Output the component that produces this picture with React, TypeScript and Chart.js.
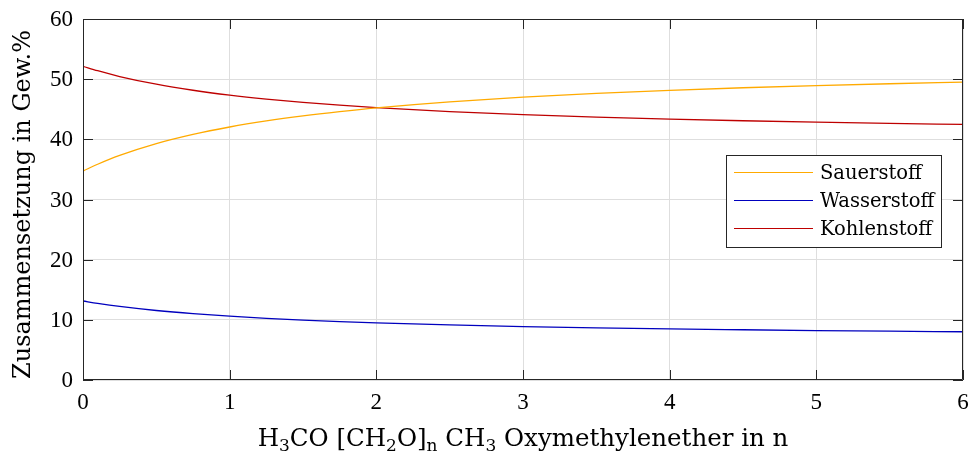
import React, { useEffect, useRef } from "react";
import { Chart, registerables } from "chart.js";

Chart.register(...registerables);

const nValues = [0, 0.1, 0.25, 0.5, 0.75, 1, 1.25, 1.5, 1.75, 2, 2.5, 3, 3.5, 4, 4.5, 5, 5.5, 6];
const sauerstoff = [34.73, 35.86, 37.33, 39.29, 40.82, 42.05, 43.06, 43.90, 44.61, 45.23, 46.23, 47.01, 47.63, 48.14, 48.57, 48.93, 49.24, 49.51];
const wasserstoff = [13.13, 12.74, 12.23, 11.55, 11.02, 10.60, 10.25, 9.96, 9.71, 9.50, 9.15, 8.88, 8.67, 8.49, 8.35, 8.22, 8.11, 8.02];
const kohlenstoff = [52.14, 51.40, 50.44, 49.16, 48.16, 47.35, 46.69, 46.14, 45.67, 45.27, 44.62, 44.11, 43.70, 43.37, 43.09, 42.85, 42.65, 42.47];
const seriesNames = ["Sauerstoff", "Wasserstoff", "Kohlenstoff"];
const seriesColors = ["rgb(255,170,0)", "rgb(0,0,190)", "rgb(190,0,0)"];
const xTicks = [0, 1, 2, 3, 4, 5, 6];
const yTicks = [0, 10, 20, 30, 40, 50, 60];
const yTitle = "Zusammensetzung in Gew.%";

const NUMFONT = "'Liberation Serif', serif";
const TXTFONT = "'DejaVu Serif', serif";
const AXIS = "#262626";

const framePlugin = {
  id: "frame",
  afterDraw(chart: any) {
    const { ctx, chartArea: a, scales } = chart;
    const xs = scales.x, ys = scales.y;
    ctx.save();
    ctx.strokeStyle = AXIS;
    ctx.lineWidth = 1;
    ctx.beginPath();
    ctx.rect(a.left + 0.5, a.top + 0.5, a.right - a.left - 1, a.bottom - a.top - 1);
    ctx.stroke();
    const tl = 10;
    ctx.beginPath();
    for (const v of yTicks) {
      const y = Math.round(ys.getPixelForValue(v)) + 0.5;
      ctx.moveTo(a.left, y); ctx.lineTo(a.left + tl, y);
      ctx.moveTo(a.right, y); ctx.lineTo(a.right - tl, y);
    }
    for (const v of xTicks) {
      const x = Math.round(xs.getPixelForValue(v)) + 0.5;
      ctx.moveTo(x, a.bottom); ctx.lineTo(x, a.bottom - tl);
      ctx.moveTo(x, a.top); ctx.lineTo(x, a.top + tl);
    }
    ctx.stroke();

    // tick labels
    ctx.fillStyle = "#000";
    ctx.font = `23px ${NUMFONT}`;
    ctx.textAlign = "right";
    ctx.textBaseline = "middle";
    for (const v of yTicks) {
      ctx.fillText(String(v), a.left - 10, ys.getPixelForValue(v) + 1);
    }
    ctx.textAlign = "center";
    ctx.textBaseline = "top";
    for (const v of xTicks) {
      ctx.fillText(String(v), xs.getPixelForValue(v), a.bottom + 11);
    }

    // legend
    const lx = 726, ly = 155, lw = 215, lh = 92;
    ctx.fillStyle = "#fff";
    ctx.fillRect(lx, ly, lw, lh);
    ctx.strokeStyle = AXIS;
    ctx.strokeRect(lx + 0.5, ly + 0.5, lw, lh);
    ctx.font = `19.5px ${TXTFONT}`;
    ctx.textBaseline = "middle";
    ctx.textAlign = "left";
    seriesNames.forEach((name, i) => {
      const y = 172.5 + i * 28;
      ctx.strokeStyle = seriesColors[i];
      ctx.beginPath();
      ctx.moveTo(734, y); ctx.lineTo(813, y);
      ctx.stroke();
      ctx.fillStyle = "#000";
      ctx.fillText(name, 820, y + 1);
    });

    // y title
    ctx.save();
    ctx.translate(30, (a.top + a.bottom) / 2 + 5);
    ctx.rotate(-Math.PI / 2);
    ctx.font = `24px ${TXTFONT}`;
    ctx.textAlign = "center";
    ctx.textBaseline = "alphabetic";
    ctx.fillStyle = "#000";
    ctx.fillText(yTitle, 0, 0);
    ctx.restore();

    // x title with subscripts
    const runs: [string, boolean][] = [
      ["H", false], ["3", true], ["CO [CH", false], ["2", true], ["O]", false], ["n", true],
      [" CH", false], ["3", true], [" Oxymethylenether in n", false],
    ];
    const big = `24.5px ${TXTFONT}`, small = `17px ${TXTFONT}`;
    let total = 0;
    for (const [t, s] of runs) { ctx.font = s ? small : big; total += ctx.measureText(t).width; }
    let x = (a.left + a.right) / 2 - total / 2;
    const base = 446;
    ctx.fillStyle = "#000";
    ctx.textBaseline = "alphabetic";
    ctx.textAlign = "left";
    for (const [t, s] of runs) {
      ctx.font = s ? small : big;
      ctx.fillText(t, x, s ? base + 5 : base);
      x += ctx.measureText(t).width;
    }
    ctx.restore();
  },
};

export default function App() {
  const ref = useRef<HTMLCanvasElement>(null);
  useEffect(() => {
    const chart = new Chart(ref.current!, {
      type: "line",
      data: {
        datasets: seriesNames.map((name, i) => ({
          label: name,
          data: nValues.map((n, j) => ({ x: n, y: [sauerstoff, wasserstoff, kohlenstoff][i][j] })),
          borderColor: seriesColors[i],
          borderWidth: 1.3,
          pointRadius: 0,
          cubicInterpolationMode: "monotone" as const,
          fill: false,
        })),
      },
      options: {
        animation: false,
        responsive: false,
        maintainAspectRatio: false,
        layout: { padding: { top: 19, right: 7, left: 0, bottom: 0 } },
        plugins: { legend: { display: false }, tooltip: { enabled: false } },
        scales: {
          x: {
            type: "linear",
            min: 0,
            max: 6,
            afterFit: (s: any) => { s.height = 78; },
            afterBuildTicks: (s: any) => { s.ticks = xTicks.map((v) => ({ value: v })); },
            grid: { color: "rgb(222,222,222)", drawTicks: false },
            border: { display: false },
            ticks: { display: false },
          },
          y: {
            min: 0,
            max: 60,
            afterFit: (s: any) => { s.width = 83; },
            afterBuildTicks: (s: any) => { s.ticks = yTicks.map((v) => ({ value: v })); },
            grid: { color: "rgb(222,222,222)", drawTicks: false },
            border: { display: false },
            ticks: { display: false },
          },
        },
      },
      plugins: [framePlugin],
    });
    return () => chart.destroy();
  }, []);
  return (
    <div style={{ position: "fixed", left: 0, top: 0, width: 970, height: 458, background: "#fff" }}>
      <canvas ref={ref} width={970} height={458} style={{ width: 970, height: 458 }} />
    </div>
  );
}
